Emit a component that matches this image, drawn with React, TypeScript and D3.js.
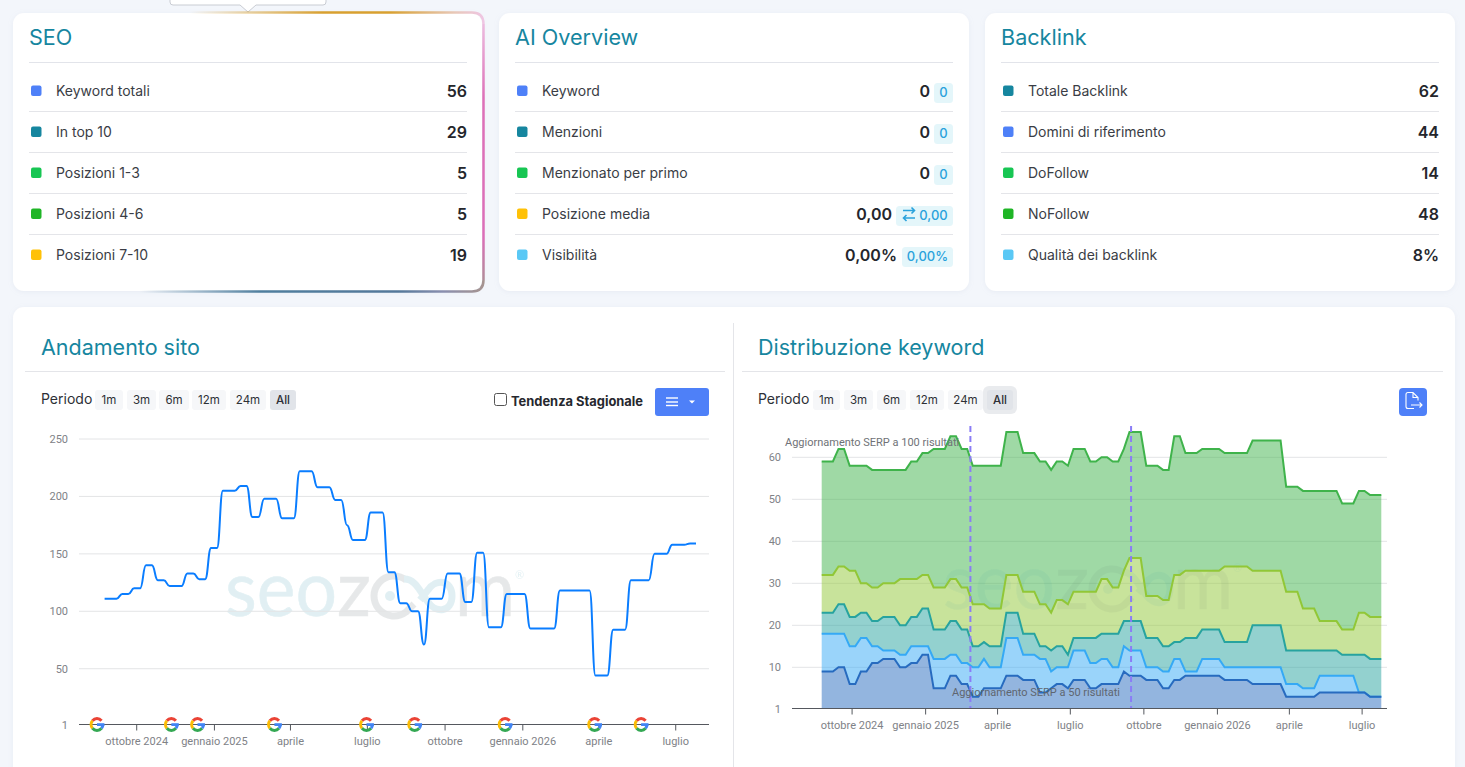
import React from "react";
import * as d3 from "d3";

const UI = "Inter, 'Noto Sans', sans-serif";
const CHART = "Roboto, sans-serif";

const seoLabels = ["Keyword totali", "In top 10", "Posizioni 1-3", "Posizioni 4-6", "Posizioni 7-10"];
const seoValues = ["56", "29", "5", "5", "19"];
const seoColors = ["#4E80F8", "#16869F", "#17C653", "#1FB526", "#FFC107"];

const aiLabels = ["Keyword", "Menzioni", "Menzionato per primo", "Posizione media", "Visibilità"];
const aiValues = ["0", "0", "0", "0,00", "0,00%"];
const aiBadges = ["0", "0", "0", "0,00", "0,00%"];
const aiColors = ["#4E80F8", "#16869F", "#17C653", "#FFC107", "#5AC8F5"];

const backlinkLabels = ["Totale Backlink", "Domini di riferimento", "DoFollow", "NoFollow", "Qualità dei backlink"];
const backlinkValues = ["62", "44", "14", "48", "8%"];
const backlinkColors = ["#16869F", "#4E80F8", "#17C653", "#1FB526", "#5AC8F5"];

const periods = ["1m", "3m", "6m", "12m", "24m", "All"];

const trendValues = [
  111, 111, 111, 115, 115, 120, 120, 140, 140, 127,
  127, 122, 122, 122, 133, 133, 128, 128, 155, 155,
  205, 205, 205, 209, 209, 182, 182, 198, 198, 198,
  181, 181, 181, 222, 222, 222, 208, 208, 208, 197,
  197, 175, 162, 162, 162, 186, 186, 186, 134, 134,
  107, 107, 100, 100, 71, 111, 111, 111, 133, 133,
  133, 108, 108, 151, 151, 86, 86, 86, 115, 115,
  115, 115, 85, 85, 85, 85, 85, 118, 118, 118,
  118, 118, 118, 44, 44, 44, 84, 84, 84, 127,
  127, 127, 127, 150, 150, 150, 158, 158, 158, 159, 159,
];

const topDarkBlue = [
  9, 9, 9, 10, 10, 6, 6, 9, 9, 11,
  11, 12, 12, 12, 10, 10, 11, 11, 13, 13,
  5, 5, 5, 8, 8, 6, 6, 3, 3, 5,
  5, 5, 5, 8, 8, 8, 7, 7, 7, 4,
  4, 5, 6, 6, 5, 7, 7, 7, 5, 5,
  6, 6, 6, 6, 9, 8, 8, 8, 7, 7,
  7, 5, 5, 7, 7, 8, 8, 8, 8, 8,
  8, 8, 7, 7, 7, 7, 7, 6, 6, 6,
  6, 6, 6, 3, 3, 3, 3, 3, 3, 4,
  4, 4, 4, 4, 4, 4, 4, 4, 3, 3, 3,
];
const topLightBlue = [
  18, 18, 18, 18, 18, 15, 15, 17, 17, 15,
  15, 14, 14, 14, 13, 13, 15, 15, 15, 15,
  12, 12, 12, 13, 13, 11, 11, 10, 10, 12,
  10, 10, 10, 17, 17, 17, 13, 13, 13, 12,
  12, 9, 10, 10, 10, 14, 14, 14, 11, 11,
  12, 12, 10, 10, 15, 14, 14, 14, 10, 10,
  10, 9, 9, 12, 12, 9, 9, 9, 12, 12,
  12, 12, 10, 10, 10, 10, 10, 10, 10, 10,
  10, 10, 10, 6, 6, 6, 5, 5, 5, 8,
  8, 8, 8, 8, 8, 8, 4, 4, 3, 3, 3,
];
const topTeal = [
  23, 23, 23, 25, 25, 22, 22, 23, 23, 21,
  21, 22, 22, 22, 20, 20, 22, 22, 24, 24,
  19, 19, 19, 21, 21, 19, 19, 15, 15, 16,
  15, 15, 15, 23, 23, 23, 18, 18, 18, 15,
  15, 14, 15, 15, 13, 17, 17, 17, 17, 17,
  18, 18, 18, 18, 21, 21, 21, 21, 17, 17,
  17, 15, 15, 16, 16, 17, 17, 17, 19, 19,
  19, 19, 16, 16, 16, 16, 16, 20, 20, 20,
  20, 20, 20, 14, 14, 14, 14, 14, 14, 14,
  14, 14, 14, 13, 13, 13, 13, 13, 12, 12, 12,
];
const topLightGreen = [
  32, 32, 32, 34, 34, 33, 33, 30, 30, 29,
  29, 30, 30, 30, 31, 31, 31, 31, 32, 32,
  29, 29, 29, 31, 31, 29, 29, 25, 25, 25,
  24, 24, 24, 32, 32, 32, 28, 28, 28, 25,
  25, 23, 26, 26, 25, 28, 28, 28, 28, 28,
  31, 31, 29, 29, 33, 36, 36, 36, 27, 27,
  27, 26, 26, 32, 32, 33, 33, 33, 33, 33,
  33, 33, 34, 34, 34, 34, 34, 33, 33, 33,
  33, 33, 33, 28, 28, 28, 24, 24, 24, 21,
  21, 21, 21, 19, 19, 19, 23, 23, 22, 22, 22,
];
const topGreen = [
  59, 59, 59, 62, 62, 58, 58, 58, 58, 57,
  57, 57, 57, 57, 57, 57, 59, 59, 61, 61,
  62, 62, 62, 65, 65, 62, 62, 58, 58, 58,
  58, 58, 58, 66, 66, 66, 61, 61, 61, 59,
  59, 57, 59, 59, 58, 62, 62, 62, 59, 59,
  60, 60, 59, 59, 62, 66, 66, 66, 58, 58,
  58, 57, 57, 65, 65, 61, 61, 61, 62, 62,
  62, 62, 61, 61, 61, 61, 61, 64, 64, 64,
  64, 64, 64, 53, 53, 53, 52, 52, 52, 52,
  52, 52, 52, 49, 49, 49, 52, 52, 51, 51, 51,
];
const bandTops = [topGreen, topLightGreen, topTeal, topLightBlue, topDarkBlue];
const bandColors = ["#3FB34B", "#91C737", "#27A39F", "#35A9F5", "#276BBF"];

const firstWeek = new Date(2024, 7, 24);
const lastWeek = d3.timeWeek.offset(firstWeek, 100);
const weeks = trendValues.map((_, i) => d3.timeWeek.offset(firstWeek, i));

const axisTicks = [
  new Date(2024, 9, 1), new Date(2025, 0, 1), new Date(2025, 3, 1), new Date(2025, 6, 1),
  new Date(2025, 9, 1), new Date(2026, 0, 1), new Date(2026, 3, 1), new Date(2026, 6, 1),
];
const axisLabels = ["ottobre 2024", "gennaio 2025", "aprile", "luglio", "ottobre", "gennaio 2026", "aprile", "luglio"];
const trendTicks = [250, 200, 150, 100, 50];
const bandTicks = [60, 50, 40, 30, 20, 10];

const googleUpdates = [
  new Date(2024, 7, 15), new Date(2024, 10, 11), new Date(2024, 11, 12), new Date(2025, 2, 13),
  new Date(2025, 5, 30), new Date(2025, 7, 26), new Date(2025, 11, 11), new Date(2026, 2, 27), new Date(2026, 4, 21),
];
const serpUpdates = [new Date(2025, 1, 26), new Date(2025, 8, 15)];
const serpLabels = ["Aggiornamento SERP a 100 risultati", "Aggiornamento SERP a 50 risultati"];

const ROW_Y = [91, 132, 173, 214, 255];

function Card({ x, y, w, h }: { x: number; y: number; w: number; h: number }) {
  return <rect x={x} y={y} width={w} height={h} rx={11} fill="#fff" filter="url(#cardShadow)" />;
}

function Rows({ title, x, right, labels, values, colors, valueRight }: any) {
  return (
    <g fontFamily={UI}>
      <text x={x} y={45} fontSize={21.6} fill="#16869F">{title}</text>
      <line x1={x} x2={right} y1={62.5} y2={62.5} stroke="#E2E4EA" strokeWidth={1} />
      {labels.map((l: string, i: number) => (
        <g key={l}>
          {i < 4 && <line x1={x} x2={right} y1={ROW_Y[i] + 20.5} y2={ROW_Y[i] + 20.5} stroke="#E4E5E9" />}
          <rect x={x + 2} y={ROW_Y[i] - 5.5} width={10.5} height={10.5} rx={2} fill={colors[i]} />
          <text x={x + 27} y={ROW_Y[i] + 5} fontSize={14} fill="#3a3d45">{l}</text>
          <text x={valueRight ? valueRight[i] : right} y={ROW_Y[i] + 6} fontSize={16} fontWeight={600} fill="#24262C" textAnchor="end">{values[i]}</text>
        </g>
      ))}
    </g>
  );
}

function Badges() {
  const lefts = [934, 934, 934, 896, 902];
  const textX = [943.5, 943.5, 943.5, 933.5, 927.5];
  return (
    <g fontFamily={UI}>
      {aiBadges.map((b, i) => (
        <g key={i}>
          <rect x={lefts[i]} y={ROW_Y[i] - 8} width={953 - lefts[i]} height={20} rx={3.5} fill="#E4F6FA" />
          <text x={textX[i]} y={ROW_Y[i] + 6} fontSize={13} fill="#2AA2DC" textAnchor="middle" fontWeight={500}>{b}</text>
          {i === 3 && (
            <g stroke="#2AA2DC" strokeWidth={1.6} fill="none">
              <path d="M903 210.5H914.5M911.5 207.5l3 3-3 3" />
              <path d="M915 218H903.5M906.5 215l-3 3 3 3" />
            </g>
          )}
        </g>
      ))}
    </g>
  );
}

function PeriodBar({ x, lefts, widths, ring }: any) {
  return (
    <g fontFamily={UI}>
      <text x={x} y={404} fontSize={14} fill="#2d3036">Periodo</text>
      {periods.map((p, i) => (
        <g key={p}>
          {p === "All" && ring && <rect x={lefts[i] - 4} y={386} width={widths[i] + 8} height={28} rx={6} fill="#E9EBEE" />}
          <rect x={lefts[i]} y={390} width={widths[i]} height={20} rx={3} fill={p === "All" ? "#E1E4E9" : "#F6F7F9"} />
          <text x={lefts[i] + widths[i] / 2} y={404} fontSize={11.5} textAnchor="middle" fill="#2d3036" fontWeight={p === "All" ? 500 : 400}>{p}</text>
        </g>
      ))}
    </g>
  );
}

function Watermark({ dx, dy, opacity }: { dx: number; dy: number; opacity: number }) {
  const teal = "#1186A0";
  const gray = "#3c4a50";
  return (
    <g transform={`translate(${dx},${dy})`} opacity={opacity} fontFamily="Lato, Inter, sans-serif" fontWeight={400}>
      <text x={225} y={616} fontSize={78} fill={teal} stroke={teal} strokeWidth={0.6} textLength={112} lengthAdjust="spacingAndGlyphs">seo</text>
      <text x={337} y={616} fontSize={78} fill={gray} stroke={gray} strokeWidth={0.6} textLength={34} lengthAdjust="spacingAndGlyphs">z</text>
      <path d="M406 580 A 20 20 0 1 0 406 612 L 414 604" fill="none" stroke={gray} strokeWidth={7} />
      <circle cx={390} cy={596} r={5} fill={teal} />
      <path d="M404 579 C 416 579, 420 592, 428 602 C 436 614, 452 612, 452 596 C 452 580, 436 578, 428 590 L 420 600" fill="none" stroke={teal} strokeWidth={7} />
      <text x={455} y={616} fontSize={78} fill={gray} stroke={gray} strokeWidth={0.6} textLength={60} lengthAdjust="spacingAndGlyphs">m</text>
      <text x={515} y={579} fontSize={11} fill={teal}>®</text>
    </g>
  );
}

function GoogleG({ x, y }: { x: number; y: number }) {
  const arc = d3.arc();
  const seg = (a: number, b: number) =>
    arc({ startAngle: (a * Math.PI) / 180, endAngle: (b * Math.PI) / 180, innerRadius: 4.4, outerRadius: 7.4 }) as string;
  return (
    <g transform={`translate(${x},${y})`}>
      <path d={seg(-50, 50)} fill="#EA4335" />
      <path d={seg(-130, -50)} fill="#FBBC05" />
      <path d={seg(130, 230)} fill="#34A853" />
      <path d={seg(90, 130)} fill="#4285F4" />
      <rect x={0} y={-1.3} width={7.4} height={2.8} fill="#4285F4" />
    </g>
  );
}

function TrendChart() {
  const x = d3.scaleTime().domain([firstWeek, lastWeek]).range([104.6, 696]);
  const y = d3.scaleLinear().domain([1, 250]).range([725, 439]);
  const line = d3.line<number>().x((_, i) => x(weeks[i])).y((v) => y(v)).curve(d3.curveBumpX);
  return (
    <g>
      <Watermark dx={0} dy={0} opacity={0.12} />
      {trendTicks.map((t) => (
        <g key={t}>
          <line x1={79} x2={709} y1={y(t)} y2={y(t)} stroke="#E3E4E6" strokeWidth={1} />
          <text x={68} y={y(t) + 4} fontSize={11} fill="#808287" textAnchor="end" fontFamily={CHART}>{t}</text>
        </g>
      ))}
      <text x={68} y={y(1) + 4} fontSize={11} fill="#808287" textAnchor="end" fontFamily={CHART}>1</text>
      <line x1={79} x2={709} y1={724.5} y2={724.5} stroke="#55585E" />
      {axisTicks.map((t, i) => (
        <g key={i}>
          <line x1={x(t)} x2={x(t)} y1={724.5} y2={730.5} stroke="#55585E" />
          <text x={x(t)} y={745} fontSize={11} fill="#808287" textAnchor="middle" fontFamily={CHART}>{axisLabels[i]}</text>
        </g>
      ))}
      <path d={line(trendValues) as string} fill="none" stroke="#0A7DFF" strokeWidth={2} />
      {googleUpdates.map((d, i) => <GoogleG key={i} x={x(d)} y={724.5} />)}
    </g>
  );
}

function BandChart() {
  const x = d3.scaleTime().domain([firstWeek, lastWeek]).range([821.7, 1381.3]);
  const y = d3.scaleLinear().domain([0, 60]).range([709.3, 457.3]);
  const baseline = 708.5;
  const area = (top: number[], bottom: number[] | null) =>
    d3.area<number>()
      .x((_, i) => x(weeks[i]))
      .y1((v) => y(v))
      .y0((_, i) => (bottom ? y(bottom[i]) : baseline))(top) as string;
  const line = d3.line<number>().x((_, i) => x(weeks[i])).y((v) => y(v));
  return (
    <g>
      {bandTicks.map((t) => (
        <g key={t}>
          <line x1={792} x2={1387} y1={y(t)} y2={y(t)} stroke="#E3E4E6" />
          <text x={781} y={y(t) + 4} fontSize={11} fill="#808287" textAnchor="end" fontFamily={CHART}>{t}</text>
        </g>
      ))}
      <text x={781} y={baseline + 4} fontSize={11} fill="#808287" textAnchor="end" fontFamily={CHART}>1</text>
      {bandTops.map((top, i) => (
        <path key={i} d={area(top, bandTops[i + 1] ?? null)} fill={bandColors[i]} fillOpacity={0.5} />
      ))}
      <Watermark dx={718} dy={-7} opacity={0.05} />
      {bandTops.map((top, i) => (
        <path key={i} d={line(top) as string} fill="none" stroke={bandColors[i]} strokeWidth={2} />
      ))}
      <line x1={792} x2={1387} y1={baseline} y2={baseline} stroke="#55585E" />
      {axisTicks.map((t, i) => (
        <g key={i}>
          <line x1={x(t)} x2={x(t)} y1={baseline} y2={baseline + 6} stroke="#55585E" />
          <text x={x(t)} y={729} fontSize={11} fill="#808287" textAnchor="middle" fontFamily={CHART}>{axisLabels[i]}</text>
        </g>
      ))}
      {serpUpdates.map((d, i) => (
        <line key={i} x1={x(d)} x2={x(d)} y1={426} y2={708} stroke="#8A7CF6" strokeWidth={2} strokeDasharray="6 4" />
      ))}
      <text x={785} y={446} fontSize={11} fill="#6f7277" fontFamily={CHART}>{serpLabels[0]}</text>
      <text x={952} y={696} fontSize={11} fill="#5f6670" fontFamily={CHART}>{serpLabels[1]}</text>
    </g>
  );
}

export default function App() {
  return (
    <svg width={1465} height={767} viewBox="0 0 1465 767" style={{ position: "fixed", left: 0, top: 0, display: "block" }}>
      <defs>
        <filter id="cardShadow" x="-5%" y="-5%" width="110%" height="110%">
          <feDropShadow dx={0} dy={1} stdDeviation={2.5} floodColor="#9AA6C0" floodOpacity={0.14} />
        </filter>
        <linearGradient id="seoTop" gradientUnits="userSpaceOnUse" x1={190} x2={484} y1={0} y2={0}>
          <stop offset="0" stopColor="#D8A030" stopOpacity={0} />
          <stop offset="0.45" stopColor="#D8A030" />
          <stop offset="0.68" stopColor="#D8A030" />
          <stop offset="0.9" stopColor="#E8C8B8" />
          <stop offset="1" stopColor="#EFC6E4" />
        </linearGradient>
        <linearGradient id="seoRight" gradientUnits="userSpaceOnUse" x1={0} x2={0} y1={14} y2={292}>
          <stop offset="0" stopColor="#EFC6E4" />
          <stop offset="0.3" stopColor="#DE70B8" />
          <stop offset="0.8" stopColor="#DC6EB8" />
          <stop offset="1" stopColor="#A69490" />
        </linearGradient>
        <linearGradient id="seoBottom" gradientUnits="userSpaceOnUse" x1={484} x2={140} y1={0} y2={0}>
          <stop offset="0" stopColor="#A69490" />
          <stop offset="0.12" stopColor="#8A8FAF" />
          <stop offset="0.25" stopColor="#54789A" />
          <stop offset="0.65" stopColor="#4F7E9E" />
          <stop offset="1" stopColor="#4F7E9E" stopOpacity={0} />
        </linearGradient>
      </defs>
      <rect width={1465} height={767} fill="#F3F6FB" />

      <path d="M170 0V2a3 3 0 0 0 3 3H240L248 12L256 5H323a3 3 0 0 0 3-3V0" fill="#fff" stroke="#C9CCD3" />

      <Card x={13} y={13} w={469} h={278} />
      <path d="M190 12.5H472Q483.5 12.5 483.5 24" fill="none" stroke="url(#seoTop)" strokeWidth={2.5} />
      <path d="M483.5 24V280" fill="none" stroke="url(#seoRight)" strokeWidth={2.5} />
      <path d="M483.5 280Q483.5 291.5 472 291.5H140" fill="none" stroke="url(#seoBottom)" strokeWidth={2.5} />
      <Rows title="SEO" x={29} right={467} labels={seoLabels} values={seoValues} colors={seoColors} />

      <Card x={499} y={13} w={470} h={278} />
      <Rows title="AI Overview" x={515} right={953} labels={aiLabels} values={aiValues} colors={aiColors} valueRight={[930, 930, 930, 892, 897]} />
      <Badges />

      <Card x={985} y={13} w={470} h={278} />
      <Rows title="Backlink" x={1001} right={1439} labels={backlinkLabels} values={backlinkValues} colors={backlinkColors} />

      <Card x={13} y={307} w={1442} h={480} />
      <g fontFamily={UI} fontSize={21.5} fill="#16869F">
        <text x={41} y={355}>Andamento sito</text>
        <text x={758} y={355}>Distribuzione keyword</text>
      </g>
      <line x1={25} x2={725} y1={371.5} y2={371.5} stroke="#E4E5E9" />
      <line x1={742} x2={1443} y1={371.5} y2={371.5} stroke="#E4E5E9" />
      <line x1={733.5} x2={733.5} y1={323} y2={767} stroke="#E4E5E9" />

      <PeriodBar x={41} lefts={[95, 127, 159, 192, 230, 270]} widths={[28, 29, 30, 34, 36, 26]} />
      <PeriodBar x={758} lefts={[813, 844, 877, 910, 948, 987]} widths={[27, 29, 29, 34, 35, 26]} ring />

      <rect x={494.5} y={393.5} width={12} height={12} rx={2} fill="#fff" stroke="#555" />
      <text x={511} y={406} fontFamily={UI} fontSize={12.9} fontWeight={700} fill="#26282E">Tendenza Stagionale</text>

      <rect x={655} y={388} width={54} height={28} rx={3} fill="#4E80F8" />
      <g stroke="#fff" strokeWidth={1.4}>
        <line x1={666} x2={678} y1={398} y2={398} />
        <line x1={666} x2={678} y1={402} y2={402} />
        <line x1={666} x2={678} y1={405.5} y2={405.5} />
      </g>
      <path d="M689 400.5h6l-3 3z" fill="#fff" />

      <rect x={1399} y={388} width={28} height={28} rx={4} fill="#4E80F8" />
      <path d="M1414 408.5h-6a2 2 0 0 1-2-2v-12a2 2 0 0 1 2-2h5l5 5v3M1413 392.5v5h5M1411 405h11M1419.5 402.5l2.5 2.5-2.5 2.5" fill="none" stroke="#fff" strokeWidth={1.1} />

      <TrendChart />
      <BandChart />
    </svg>
  );
}
